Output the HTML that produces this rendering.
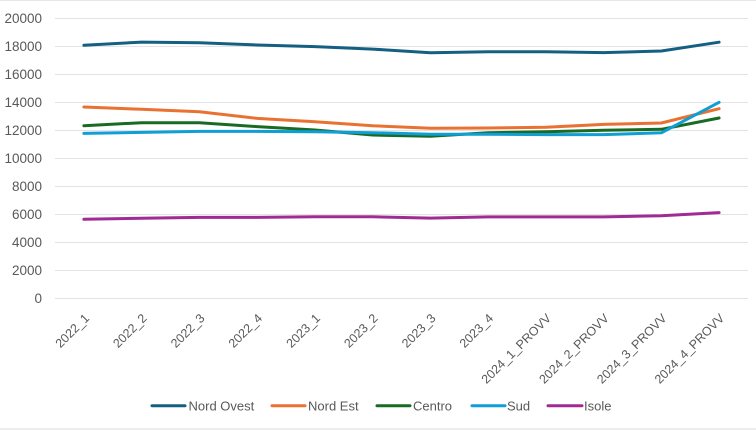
<!DOCTYPE html>
<html><head><meta charset="utf-8"><style>
html,body{margin:0;padding:0;background:#fff;}
svg{display:block;}
text{font-family:"Liberation Sans",sans-serif;fill:#595959;}
</style></head><body>
<svg width="756" height="430" viewBox="0 0 756 430" xmlns="http://www.w3.org/2000/svg">
<rect x="0" y="0" width="756" height="430" fill="#fff"/>
<line x1="0" y1="0.5" x2="756" y2="0.5" stroke="#e6e6e6" stroke-width="1"/>
<rect x="0" y="428" width="756" height="2" fill="#ececec"/>
<g stroke="#e3e3e3" stroke-width="1">
<line x1="55" y1="18.5" x2="748" y2="18.5"/>
<line x1="55" y1="46.5" x2="748" y2="46.5"/>
<line x1="55" y1="74.5" x2="748" y2="74.5"/>
<line x1="55" y1="102.5" x2="748" y2="102.5"/>
<line x1="55" y1="130.5" x2="748" y2="130.5"/>
<line x1="55" y1="158.5" x2="748" y2="158.5"/>
<line x1="55" y1="186.5" x2="748" y2="186.5"/>
<line x1="55" y1="214.5" x2="748" y2="214.5"/>
<line x1="55" y1="242.5" x2="748" y2="242.5"/>
<line x1="55" y1="270.5" x2="748" y2="270.5"/>
<line x1="55" y1="298.5" x2="748" y2="298.5"/>
</g>
<g font-size="13.5" text-anchor="end">
<text x="42" y="23">20000</text>
<text x="42" y="51">18000</text>
<text x="42" y="79">16000</text>
<text x="42" y="107">14000</text>
<text x="42" y="135">12000</text>
<text x="42" y="163">10000</text>
<text x="42" y="191">8000</text>
<text x="42" y="219">6000</text>
<text x="42" y="247">4000</text>
<text x="42" y="275">2000</text>
<text x="42" y="303">0</text>
</g>
<g font-size="12.5" text-anchor="end">
<text transform="translate(90,319) rotate(-45)">2022_1</text>
<text transform="translate(147.6,319) rotate(-45)">2022_2</text>
<text transform="translate(205.4,319) rotate(-45)">2022_3</text>
<text transform="translate(263.1,319) rotate(-45)">2022_4</text>
<text transform="translate(320.9,319) rotate(-45)">2023_1</text>
<text transform="translate(378.6,319) rotate(-45)">2023_2</text>
<text transform="translate(436.4,319) rotate(-45)">2023_3</text>
<text transform="translate(494.1,319) rotate(-45)">2023_4</text>
<text transform="translate(551.9,319) rotate(-45)">2024_1_PROVV</text>
<text transform="translate(609.6,319) rotate(-45)">2024_2_PROVV</text>
<text transform="translate(667.4,319) rotate(-45)">2024_3_PROVV</text>
<text transform="translate(725.1,319) rotate(-45)">2024_4_PROVV</text>
</g>
<g fill="none" stroke-width="3" stroke-linejoin="round" stroke-linecap="round">
<polyline stroke="#156082" points="83.9,45.3 141.6,42.1 199.4,42.8 257.1,45 314.9,46.6 372.6,49.1 430.4,52.7 488.1,51.7 545.9,51.7 603.6,52.6 661.4,51 719.1,42.2"/>
<polyline stroke="#E97132" points="83.9,107 141.6,109.3 199.4,111.7 257.1,118.4 314.9,121.7 372.6,125.7 430.4,128.3 488.1,128 545.9,127.3 603.6,124.4 661.4,123 719.1,108.7"/>
<polyline stroke="#196B24" points="83.9,125.7 141.6,122.7 199.4,122.7 257.1,126.6 314.9,130 372.6,135 430.4,136.3 488.1,132.7 545.9,131.7 603.6,130.3 661.4,129.3 719.1,118"/>
<polyline stroke="#0F9ED5" points="83.9,133.4 141.6,132.4 199.4,131.4 257.1,131.4 314.9,131.7 372.6,132.7 430.4,134.3 488.1,134.2 545.9,134.6 603.6,134.6 661.4,132.8 719.1,102.3"/>
<polyline stroke="#A02B93" points="83.9,219.3 141.6,218.3 199.4,217.4 257.1,217.4 314.9,216.7 372.6,216.8 430.4,218.1 488.1,216.9 545.9,216.9 603.6,216.9 661.4,215.7 719.1,212.6"/>
</g>
<g stroke-width="3" stroke-linecap="round">
<line x1="152" y1="405.7" x2="185" y2="405.7" stroke="#156082"/>
<line x1="272" y1="405.7" x2="305" y2="405.7" stroke="#E97132"/>
<line x1="377" y1="405.7" x2="410" y2="405.7" stroke="#196B24"/>
<line x1="472" y1="405.7" x2="505" y2="405.7" stroke="#0F9ED5"/>
<line x1="548" y1="405.7" x2="582" y2="405.7" stroke="#A02B93"/>
</g>
<g font-size="13">
<text x="188.5" y="410.5">Nord Ovest</text>
<text x="308" y="410.5">Nord Est</text>
<text x="413" y="410.5">Centro</text>
<text x="507" y="410.5">Sud</text>
<text x="584" y="410.5">Isole</text>
</g>
</svg>
</body></html>
